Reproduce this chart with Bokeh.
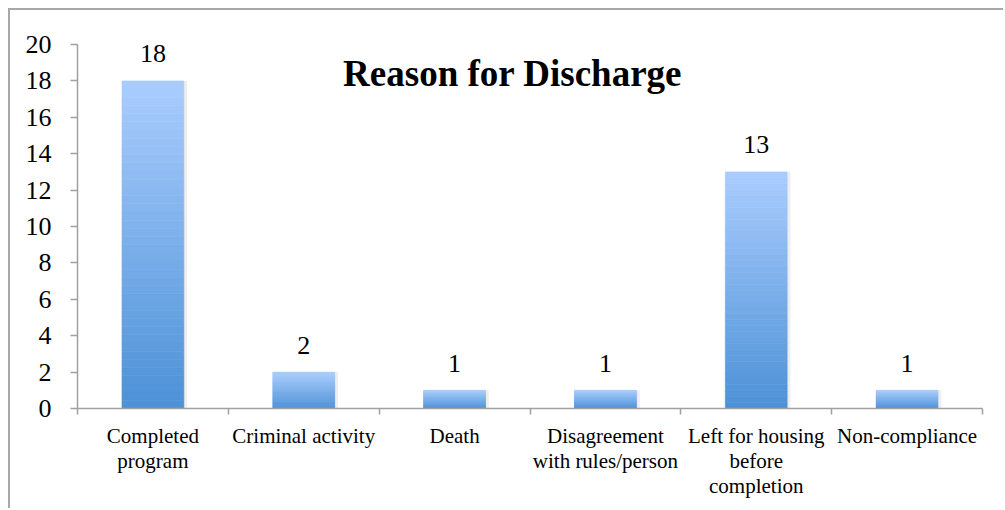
import numpy as np
from bokeh.plotting import figure
from bokeh.models import ColumnDataSource, FixedTicker, Range1d, Label
from bokeh.core.properties import value
from bokeh.embed import file_html
from bokeh.resources import INLINE

categories = ["Completed program", "Criminal activity", "Death",
              "Disagreement with rules/person", "Left for housing before completion",
              "Non-compliance"]
tick_labels = ["Completed\nprogram", "Criminal activity", "Death",
               "Disagreement\nwith rules/person", "Left for housing\nbefore\ncompletion",
               "Non-compliance"]
counts = [18, 2, 1, 1, 13, 1]

FONT = "Liberation Serif"
TOP_RGB = np.array([170, 205, 255])
BOT_RGB = np.array([76, 145, 214])
BAR_W = 0.41
N_SLICES = 40

p = figure(width=995, height=500, output_backend="svg", toolbar_location=None,
           x_range=Range1d(0, len(categories)), y_range=Range1d(0, 20),
           min_border_left=67, min_border_right=23, min_border_top=34,
           min_border_bottom=102, background_fill_color="white",
           border_fill_color="white", outline_line_color=None,
           styles={"border-left": "2px solid #a8a8a8", "border-top": "2px solid #a8a8a8",
                   "margin-left": "8px", "margin-top": "8px"})
p.xgrid.visible = False
p.ygrid.visible = False

xs = np.arange(len(categories)) + 0.5

# soft shadow
p.vbar(x=xs + 0.012, top=counts, bottom=0, width=BAR_W + 0.02,
       fill_color="#cfcfcf", fill_alpha=0.35, line_color=None)

# gradient bars built from the counts
sx, sb, st, sc = [], [], [], []
for x, v in zip(xs, counts):
    for k in range(N_SLICES):
        b = v * k / N_SLICES
        t = v * (k + 1) / N_SLICES
        f = (k + 0.5) / N_SLICES
        rgb = BOT_RGB + (TOP_RGB - BOT_RGB) * f
        sx.append(x); sb.append(b); st.append(t)
        sc.append("#%02x%02x%02x" % tuple(int(round(c)) for c in rgb))
src = ColumnDataSource(dict(x=sx, bottom=sb, top=st, color=sc))
p.vbar(x="x", bottom="bottom", top="top", width=BAR_W, fill_color="color",
       line_color="color", line_width=0.6, source=src)

lab = ColumnDataSource(dict(x=xs, y=counts, t=[str(c) for c in counts]))
p.text(x="x", y="y", text="t", source=lab, text_align="center",
       text_baseline="alphabetic", y_offset=-27, text_font=value(FONT),
       text_font_size="26px", text_color="black")

p.add_layout(Label(x=2.885, y=18.4, text="Reason for Discharge", text_align="center",
                   text_baseline="alphabetic", text_font=FONT, text_font_size="37px",
                   text_font_style="bold", text_color="black"))

ax = p.xaxis[0]
ax.ticker = FixedTicker(ticks=list(xs), minor_ticks=list(range(len(categories) + 1)))
ax.major_label_overrides = {float(x): l for x, l in zip(xs, tick_labels)}
ax.major_tick_out = 0
ax.major_tick_in = 0
ax.minor_tick_out = 6
ax.minor_tick_in = 0
ax.minor_tick_line_color = "#a0a0a0"
ax.axis_line_color = "#a0a0a0"
ax.axis_line_width = 1.5
ax.minor_tick_line_width = 1.5
ax.major_label_text_font = FONT
ax.major_label_text_font_size = "21px"
ax.major_label_text_color = "black"
ax.major_label_text_line_height = 1.05
ax.major_label_standoff = 9
ax.major_label_orientation = "horizontal"

ay = p.yaxis[0]
ay.ticker = FixedTicker(ticks=list(range(0, 21, 2)))
ay.major_tick_out = 7
ay.major_tick_in = 0
ay.minor_tick_out = 0
ay.minor_tick_in = 0
ay.axis_line_color = "#a0a0a0"
ay.axis_line_width = 1.5
ay.major_tick_line_color = "#a0a0a0"
ay.major_tick_line_width = 1.5
ay.major_label_text_font = FONT
ay.major_label_text_font_size = "26px"
ay.major_label_text_color = "black"
ay.major_label_standoff = 19

open("out.html", "w").write(file_html(p, INLINE))
